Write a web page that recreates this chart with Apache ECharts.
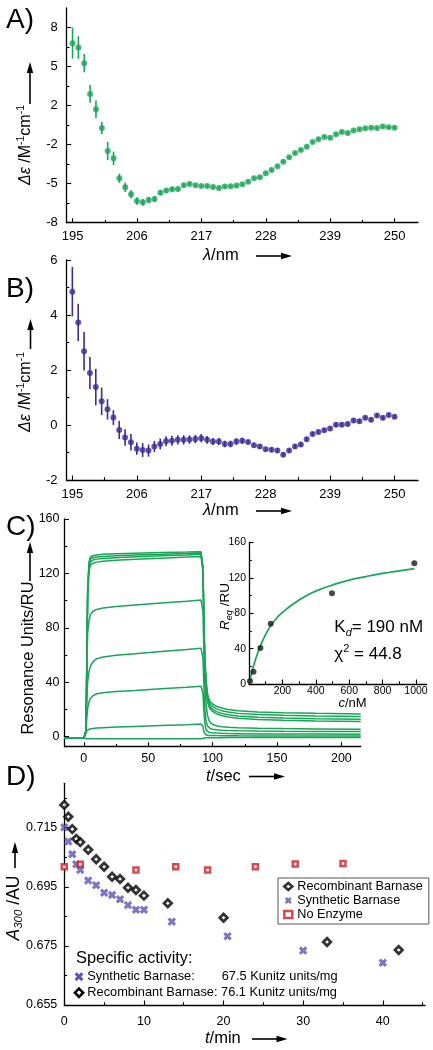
<!DOCTYPE html>
<html>
<head>
<meta charset="utf-8">
<script src="https://cdn.jsdelivr.net/npm/echarts@6.0.0/dist/echarts.min.js"></script>
<style>
html,body{margin:0;padding:0;background:#fff;}
#chart{width:433px;height:1050px;}
</style>
</head>
<body>
<div id="chart"></div>
<script>
// ---------------- DATA ----------------
// Panels A and B: wavelength grid (nm)
const lambdaNm = [195,196,197,198,199,200,201,202,203,204,205,206,207,208,209,210,211,212,213,214,215,216,217,218,219,220,221,222,223,224,225,226,227,228,229,230,231,232,233,234,235,236,237,238,239,240,241,242,243,244,245,246,247,248,249,250];
// Panel A: delta epsilon (green) and error
const cdA = [6.72,6.36,5.08,2.56,1.30,-0.23,-2.12,-2.72,-4.36,-5.10,-5.67,-6.22,-6.33,-6.14,-6.06,-5.54,-5.37,-5.26,-5.24,-4.93,-4.82,-4.93,-4.99,-4.99,-5.07,-5.15,-5.04,-5.02,-4.96,-4.85,-4.64,-4.36,-4.28,-3.95,-3.68,-3.37,-3.00,-2.63,-2.28,-2.04,-1.77,-1.38,-1.16,-0.97,-1.03,-0.75,-0.56,-0.64,-0.45,-0.34,-0.26,-0.21,-0.23,-0.12,-0.17,-0.21];
const errA = [1.27,0.93,0.75,0.72,0.72,0.5,0.75,0.55,0.38,0.38,0.32,0.3,0.28,0.25,0.25,0.2,0.18,0.18,0.15,0.14,0.14,0.1,0.1,0.1,0.1,0.1,0.1,0.1,0.1,0.1,0.1,0.1,0.1,0.1,0.1,0.1,0.1,0.1,0.1,0.1,0.1,0.1,0.1,0.1,0.1,0.1,0.1,0.1,0.1,0.1,0.1,0.1,0.1,0.1,0.1,0.1];
// Panel B: delta epsilon (purple) and error
const cdB = [4.85,3.73,2.68,1.89,1.38,0.86,0.57,0.27,-0.18,-0.45,-0.63,-0.86,-0.91,-0.93,-0.78,-0.69,-0.59,-0.57,-0.54,-0.54,-0.53,-0.51,-0.48,-0.54,-0.60,-0.60,-0.69,-0.69,-0.60,-0.57,-0.62,-0.74,-0.78,-0.88,-0.90,-0.93,-1.08,-0.93,-0.78,-0.71,-0.52,-0.33,-0.25,-0.19,-0.13,0.01,0.01,0.04,0.16,0.14,0.26,0.19,0.35,0.26,0.36,0.30];
const errB = [0.9,0.68,0.7,0.58,0.66,0.5,0.37,0.27,0.33,0.3,0.3,0.22,0.25,0.22,0.2,0.2,0.18,0.18,0.17,0.17,0.15,0.15,0.15,0.14,0.13,0.13,0.12,0.12,0.12,0.11,0.08,0.08,0.08,0.08,0.08,0.08,0.08,0.08,0.08,0.08,0.08,0.08,0.08,0.08,0.08,0.08,0.08,0.08,0.08,0.08,0.08,0.08,0.08,0.08,0.08,0.08];
// Tick values / labels
const ticksLambda = [195,206,217,228,239,250];
const minorLambda = [200.5,211.5,222.5,233.5,244.5];
const ticksA = [-8,-4.8,-1.6,1.6,4.8,8];
const tickLabelsA = ['-8','-5','-2','2','5','8'];
const minorA = [-6.4,-3.2,0,3.2,6.4];
const ticksB = [-2,0,2,4,6];
const minorB = [-1,1,3,5];

// Panel C: SPR sensorgrams (time s, response RU)
const sprT = [-15,0,0.5,1,1.5,2,2.5,3,4,5,7,10,15,25,40,60,80,91,92,92.5,93,93.5,94,95,96,97,98,100,103,107,112,120,135,155,180,215];
const sprTop1 = [-1.2,-1.2,-1.1,-0.6,4,28,72,110,128,132,133,133.5,134,134.4,134.8,135.3,135.7,136,135.8,125,100,76,58,41,32,28,26,24,22.3,21,20,19,18.2,17.6,17.1,16.7];
const sprTop2 = [-1.2,-1.2,-1.1,-0.6,4,27,70,108,126,130.5,131.5,132,132.5,133,133.5,134,134.6,135,134.8,124,99,74,56,39,30,26,24,22,20.4,19.1,18.1,17.1,16.3,15.7,15.2,14.8];
const sprTop3 = [-1.2,-1.2,-1.1,-0.6,3.5,26,68,106,124,128.5,129.8,130.5,131,131.6,132.2,132.9,133.5,134,133.8,123,98,72,54,37,28,24,22,20,18.4,17.1,16.1,15.1,14.3,13.7,13.2,12.8];
const sprTop4 = [-1.2,-1.2,-1.1,-0.6,3.5,25,66,103,121,126,127.5,128.3,129,129.7,130.4,131.2,132,132.5,132.3,121,96,70,52,35,26,22.5,20.5,18.5,16.8,15.5,14.5,13.5,12.6,12,11.5,11.1];
const spr97 = [-1.2,-1.2,-1.1,-0.6,4,28,58,76,85,89.5,92,93.5,94.5,95.7,96.8,98.3,99.6,100.4,100.2,92,72,52,38,23,16,12.5,10.5,9,8,7.3,6.9,6.5,6.1,5.9,5.7,5.5];
const spr62 = [-1.2,-1.2,-1.1,-0.6,3,16,30,40,47.5,51.5,55,57.3,58.5,59.8,61,62.6,64,65,64.8,58,44,30,20,11,8,6.6,6,5.5,5,4.7,4.5,4.3,4.1,3.9,3.8,3.7];
const spr35 = [-1.2,-1.2,-1.1,-0.6,2.5,9,16,21,25.5,27.8,30,31.5,32.3,33.2,34,35.2,36.3,37,36.8,32,23,15,9.5,5,3.8,3.2,3,2.8,2.6,2.4,2.3,2.2,2,1.9,1.85,1.8];
const spr9 = [-1.2,-1.2,-1,0,2.5,4,4.6,5,5.4,5.6,6,6.3,6.6,7,7.5,8.2,8.8,9.2,9.1,7.5,5,3,2,1.2,1,0.9,0.85,0.8,0.75,0.7,0.65,0.6,0.55,0.55,0.5,0.5];
const spr0 = [-1.2,-1.2,-1.2,-1.3,-1.5,-1.6,-1.6,-1.6,-1.6,-1.6,-1.6,-1.6,-1.6,-1.6,-1.6,-1.6,-1.6,-1.6,-1.6,-1.4,-1.2,-1,-0.9,-0.8,-0.8,-0.8,-0.8,-0.8,-0.8,-0.8,-0.7,-0.7,-0.7,-0.7,-0.7,-0.7];
const ticksCx = [0,50,100,150,200];
const minorCx = [25,75,125,175];
const ticksCy = [0,40,80,120,160];
const minorCy = [20,60,100,140];
// Panel C inset: equilibrium response vs concentration
const concNM = [6,27,68,130,497,990];
const reqRU = [3.4,13.9,40.7,68.2,102.6,136.5];
const fitC = [0,10,25,50,75,100,130,150,200,300,400,500,600,700,800,900,990];
const fitRU = [0,8,19,34,46,56,66,71,81,95,105,112,117.5,121.5,125,128,130.5];
const ticksIx = [200,400,600,800,1000];
const minorIx = [100,300,500,700,900];
const ticksIy = [0,40,80,120,160];
const minorIy = [20,60,100,140];

// Panel D: absorbance vs time
const recT = [0,0.5,1,1.5,2,3,4,5,6,7,8,9,10,13,20,33,42];
const recA = [0.7227,0.7187,0.7145,0.7112,0.7101,0.7075,0.7043,0.7018,0.6984,0.6976,0.6947,0.6939,0.6920,0.6894,0.6845,0.6763,0.6736];
const synT = [0,0.5,1,1.5,2,3,4,5,6,7,8,9,10,13.5,20.5,30,40];
const synA = [0.7151,0.7103,0.7060,0.7026,0.7007,0.6971,0.6955,0.6930,0.6922,0.6908,0.6888,0.6872,0.6872,0.6832,0.6783,0.6734,0.6693];
const noT = [0,2,9,14,18,24,29,35];
const noA = [0.7018,0.7026,0.7007,0.7018,0.7007,0.7018,0.7027,0.7029];
const ticksDx = [0,10,20,30,40];
const minorDx = [5,15,25,35,45];
const ticksDy = [0.655,0.675,0.695,0.715];
const minorDy = [0.665,0.685,0.705,0.725];

// ---------------- CHART ----------------
const FONT = 'Liberation Sans, Arial, sans-serif';
const GREEN = '#17a556';
const PURPLE = '#3a2c9a';
const SYN = '#5b51bb';
const RED = '#cf1a1f';

function zip(a, b) { return a.map((v, i) => [v, b[i]]); }

function axis(dim, gi, min, max, ticks, o) {
  o = o || {};
  return {
    type: 'value', gridIndex: gi, min: min, max: max,
    position: dim === 'x' ? 'bottom' : 'left',
    axisLine: { show: !o.minor, onZero: false, lineStyle: { color: '#000', width: 1.3 } },
    axisTick: { show: true, inside: true, length: o.minor ? 2.8 : 4.5, customValues: ticks, lineStyle: { color: '#000', width: 1.1 } },
    axisLabel: o.minor ? { show: false } : {
      show: true, customValues: ticks, formatter: o.formatter || (v => String(v)), fontSize: o.fontSize || 13,
      color: '#000', fontFamily: FONT, margin: o.margin
    },
    splitLine: { show: false }
  };
}

const grids = [
  { left: 66.7, top: 8, width: 351.3, height: 214.7 },      // A
  { left: 66.5, top: 260, width: 351.5, height: 220 },      // B
  { left: 64.5, top: 519, width: 296.2, height: 227.7 },    // C
  { left: 249, top: 542.5, width: 177.7, height: 141.5 },   // C inset
  { left: 64.3, top: 783.3, width: 360.7, height: 221.7 }   // D
];

const xAxes = [
  axis('x', 0, 194, 254, ticksLambda, { margin: 7.5 }),
  axis('x', 0, 194, 254, minorLambda, { minor: true }),
  axis('x', 1, 194, 254, ticksLambda, { margin: 7.5 }),
  axis('x', 1, 194, 254, minorLambda, { minor: true }),
  axis('x', 2, -15, 215, ticksCx, { margin: 5, fontSize: 12.5 }),
  axis('x', 2, -15, 215, minorCx, { minor: true }),
  axis('x', 3, 0, 1064, ticksIx, { margin: 1.5, fontSize: 10.5 }),
  axis('x', 3, 0, 1064, minorIx, { minor: true }),
  axis('x', 4, 0, 45.3, ticksDx, { margin: 10, fontSize: 12.5 }),
  axis('x', 4, 0, 45.3, minorDx, { minor: true })
];
const yAxes = [
  axis('y', 0, -8, 9.6, ticksA, { margin: 9, formatter: v => tickLabelsA[ticksA.findIndex(t => Math.abs(t - v) < 1e-6)] }),
  axis('y', 0, -8, 9.6, minorA, { minor: true }),
  axis('y', 1, -2, 6, ticksB, { margin: 9 }),
  axis('y', 1, -2, 6, minorB, { minor: true }),
  axis('y', 2, -7.4, 160, ticksCy, { margin: 5, fontSize: 12.5 }),
  axis('y', 2, -7.4, 160, minorCy, { minor: true }),
  axis('y', 3, 0, 160, ticksIy, { margin: 3, fontSize: 10.5 }),
  axis('y', 3, 0, 160, minorIy, { minor: true }),
  axis('y', 4, 0.655, 0.730, ticksDy, { margin: 7, fontSize: 12.5, formatter: v => v.toFixed(3) }),
  axis('y', 4, 0.655, 0.730, minorDy, { minor: true })
];

function errSeries(xi, xs, ys, es, color) {
  return {
    type: 'custom', xAxisIndex: xi, yAxisIndex: xi, coordinateSystem: 'cartesian2d',
    data: xs.map((x, i) => [x, ys[i], es[i]]),
    encode: { x: 0, y: 1 }, silent: true, z: 2,
    renderItem: function (params, api) {
      const x = api.value(0), y = api.value(1), e = api.value(2);
      const a = api.coord([x, y - e]), b = api.coord([x, y + e]);
      return { type: 'line', shape: { x1: a[0], y1: a[1], x2: b[0], y2: b[1] }, style: { stroke: color, lineWidth: 1.6 } };
    }
  };
}

function sprLine(vals) {
  return {
    type: 'line', xAxisIndex: 4, yAxisIndex: 4, data: zip(sprT, vals),
    showSymbol: false, symbol: 'none', smooth: false, silent: true,
    lineStyle: { color: GREEN, width: 1.5 }, z: 2
  };
}

const xPath = 'path://M0,2.6 L2.6,0 L5,2.4 L7.4,0 L10,2.6 L7.6,5 L10,7.4 L7.4,10 L5,7.6 L2.6,10 L0,7.4 L2.4,5 Z';

const series = [
  errSeries(0, lambdaNm, cdA, errA, GREEN),
  { type: 'scatter', xAxisIndex: 0, yAxisIndex: 0, data: zip(lambdaNm, cdA), symbolSize: 6, itemStyle: { color: GREEN }, z: 3 },
  errSeries(2, lambdaNm, cdB, errB, PURPLE),
  { type: 'scatter', xAxisIndex: 2, yAxisIndex: 2, data: zip(lambdaNm, cdB), symbolSize: 6, itemStyle: { color: PURPLE }, z: 3 },
  sprLine(sprTop1), sprLine(sprTop2), sprLine(sprTop3), sprLine(sprTop4),
  sprLine(spr97), sprLine(spr62), sprLine(spr35), sprLine(spr9), sprLine(spr0),
  { type: 'line', xAxisIndex: 6, yAxisIndex: 6, data: zip(fitC, fitRU), showSymbol: false, symbol: 'none', smooth: true,
    lineStyle: { color: GREEN, width: 1.7 }, z: 2 },
  { type: 'scatter', xAxisIndex: 6, yAxisIndex: 6, data: zip(concNM, reqRU), symbolSize: 6, itemStyle: { color: '#1a1a1a' }, z: 3 },
  { name: 'Recombinant Barnase', type: 'scatter', xAxisIndex: 8, yAxisIndex: 8, data: zip(recT, recA),
    symbol: 'diamond', symbolSize: 7.5, itemStyle: { color: '#fff', borderColor: '#000', borderWidth: 2.8 }, z: 4 },
  { name: 'Synthetic Barnase', type: 'scatter', xAxisIndex: 8, yAxisIndex: 8, data: zip(synT, synA),
    symbol: xPath, symbolSize: 8.5, itemStyle: { color: SYN }, z: 3 },
  { name: 'No Enzyme', type: 'scatter', xAxisIndex: 8, yAxisIndex: 8, data: zip(noT, noA),
    symbol: 'rect', symbolSize: 5, itemStyle: { color: '#fff', borderColor: RED, borderWidth: 2.5 }, z: 3 }
];

// ---------- decorations: text and arrows ----------
function rtext(x, y, text, rich, o) {
  o = o || {};
  return {
    type: 'text', x: x, y: y, rotation: o.rot || 0, silent: true, z: 10,
    style: {
      text: text, x: 0, y: 0, rich: rich, fill: '#000',
      font: (o.size || 16) + 'px ' + FONT,
      align: o.align || 'left', textAlign: o.align || 'left',
      verticalAlign: 'middle', textVerticalAlign: 'middle'
    }
  };
}
function R(size, extra) { return Object.assign({ fontSize: size, fontFamily: FONT, fill: '#000' }, extra || {}); }

function arrowUp(x, y0, yTip) {
  return [
    { type: 'line', silent: true, shape: { x1: x, y1: y0, x2: x, y2: yTip + 8 }, style: { stroke: '#000', lineWidth: 1.6 } },
    { type: 'polygon', silent: true, shape: { points: [[x, yTip], [x - 3.2, yTip + 11], [x + 3.2, yTip + 11]] }, style: { fill: '#000' } }
  ];
}
function arrowRight(y, x0, xTip) {
  return [
    { type: 'line', silent: true, shape: { x1: x0, y1: y, x2: xTip - 8, y2: y }, style: { stroke: '#000', lineWidth: 1.6 } },
    { type: 'polygon', silent: true, shape: { points: [[xTip, y], [xTip - 11, y - 3.2], [xTip - 11, y + 3.2]] }, style: { fill: '#000' } }
  ];
}

const epsRich = {
  i: R(16, { fontStyle: 'italic', lineHeight: 20 }),
  n: R(16, { lineHeight: 20 }),
  s: R(10.5, { lineHeight: 10, verticalAlign: 'top' })
};
const xnRich = { i: R(16.5, { fontStyle: 'italic', lineHeight: 20 }), n: R(16.5, { lineHeight: 20 }) };

const graphics = [
  rtext(6, 20, 'A)', null, { size: 28 }),
  rtext(6, 289, 'B)', null, { size: 28 }),
  rtext(6, 527, 'C)', null, { size: 28 }),
  rtext(6, 777.5, 'D)', null, { size: 28 }),
  // axis names
  rtext(25.5, 145, '{i|Δε}{n| /M}{s|-1}{n|cm}{s|-1}', epsRich, { rot: Math.PI / 2, align: 'center' }),
  rtext(25.5, 392, '{i|Δε}{n| /M}{s|-1}{n|cm}{s|-1}', epsRich, { rot: Math.PI / 2, align: 'center' }),
  rtext(28, 658, 'Resonance Units/RU', null, { rot: Math.PI / 2, align: 'center', size: 16.4 }),
  rtext(14, 908, '{i|A}{b|300}{n| /AU}', {
    i: R(17.5, { fontStyle: 'italic', lineHeight: 22 }),
    b: R(11.5, { fontStyle: 'italic', lineHeight: 12, verticalAlign: 'bottom' }),
    n: R(17.5, { lineHeight: 22 })
  }, { rot: Math.PI / 2, align: 'center' }),
  rtext(203, 255.5, '{i|λ}{n|/nm}', xnRich),
  rtext(203, 510.5, '{i|λ}{n|/nm}', xnRich),
  rtext(206, 776, '{i|t}{n|/sec}', xnRich),
  rtext(205, 1038, '{i|t}{n|/min}', xnRich),
  rtext(225.5, 606.5, '{i|R}{b|eq}{n| /RU}', {
    i: R(13.5, { fontStyle: 'italic', lineHeight: 17 }),
    b: R(9, { fontStyle: 'italic', lineHeight: 9, verticalAlign: 'bottom' }),
    n: R(13.5, { lineHeight: 17 })
  }, { rot: Math.PI / 2, align: 'center' }),
  rtext(338.5, 703.5, '{i|c}{n|/nM}', { i: R(13, { fontStyle: 'italic' }), n: R(13) }),
  // inset annotations
  rtext(334.3, 627, '{n|K}{b|d}{n|= 190 nM}', {
    n: R(17, { lineHeight: 22 }),
    b: R(11, { fontStyle: 'italic', lineHeight: 11, verticalAlign: 'bottom' })
  }),
  rtext(334.3, 654, '{n|χ}{s|2}{n| = 44.8}', {
    n: R(17, { lineHeight: 22 }),
    s: R(11, { lineHeight: 11, verticalAlign: 'top' })
  }),
  // specific activity block
  rtext(76, 958.3, 'Specific activity:', null, { size: 16.4 }),
  rtext(87.3, 976.7, 'Synthetic Barnase:', null, { size: 12.8 }),
  rtext(221.7, 976.7, '67.5 Kunitz units/mg', null, { size: 12.8 }),
  rtext(87.3, 992.7, 'Recombinant Barnase: 76.1 Kunitz units/mg', null, { size: 12.8 }),
  { type: 'line', silent: true, shape: { x1: 75.6, y1: 973.3, x2: 82.4, y2: 980.1 }, style: { stroke: SYN, lineWidth: 3 } },
  { type: 'line', silent: true, shape: { x1: 75.6, y1: 980.1, x2: 82.4, y2: 973.3 }, style: { stroke: SYN, lineWidth: 3 } },
  { type: 'polygon', silent: true, shape: { points: [[79, 988.6], [83.1, 992.7], [79, 996.8], [74.9, 992.7]] }, style: { fill: '#fff', stroke: '#000', lineWidth: 2.6 } }
].concat(
  arrowUp(30, 104, 62),
  arrowUp(30.5, 349, 319),
  arrowUp(30, 581, 542),
  arrowUp(15, 868, 842),
  arrowRight(256, 256, 292),
  arrowRight(511, 256, 292),
  arrowRight(776.5, 249, 285),
  arrowRight(1039, 252, 287.5)
);

const option = {
  animation: false,
  backgroundColor: '#fff',
  textStyle: { fontFamily: FONT },
  grid: grids,
  xAxis: xAxes,
  yAxis: yAxes,
  legend: {
    data: [
      { name: 'Recombinant Barnase', icon: 'diamond', itemStyle: { color: '#fff', borderColor: '#000', borderWidth: 2.6 } },
      { name: 'Synthetic Barnase', icon: xPath, itemStyle: { color: SYN, borderWidth: 0 } },
      { name: 'No Enzyme', icon: 'rect', itemStyle: { color: '#fff', borderColor: RED, borderWidth: 2.5 } }
    ],
    orient: 'vertical', left: 278, top: 878, padding: [2, 6, 3, 5], itemGap: 1,
    itemWidth: 8, itemHeight: 7, borderColor: '#555', borderWidth: 1, backgroundColor: '#fff',
    selectedMode: false,
    textStyle: { fontSize: 12.7, fontFamily: FONT, color: '#000' }
  },
  series: series,
  graphic: { elements: graphics }
};

const chart = echarts.init(document.getElementById('chart'), null, { renderer: 'canvas', width: 433, height: 1050 });
chart.setOption(option);
</script>
</body>
</html>
